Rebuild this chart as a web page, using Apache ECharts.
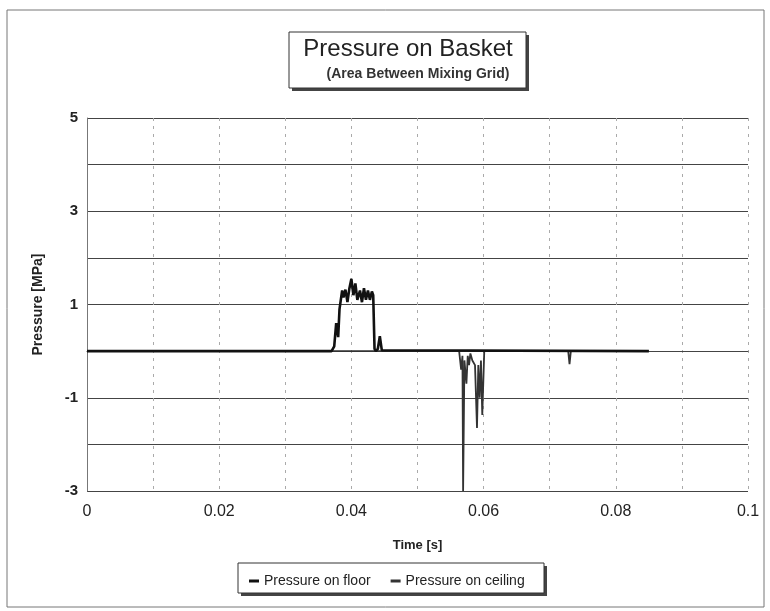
<!DOCTYPE html>
<html>
<head>
<meta charset="utf-8">
<script src="https://cdn.jsdelivr.net/npm/echarts@6/dist/echarts.min.js"></script>
<style>html,body{margin:0;padding:0;background:#fff}#c{width:770px;height:611px}</style>
</head>
<body>
<div id="c"></div>
<script>
// ---- data ----
var floorTime = [0, 0.0370, 0.0374, 0.0377, 0.0380, 0.0382, 0.0386, 0.0388, 0.0391, 0.0394, 0.0397, 0.0400, 0.0403, 0.0406, 0.0409, 0.0413, 0.0416, 0.0419, 0.0422, 0.0425, 0.0428, 0.0431, 0.0433, 0.0435, 0.0437, 0.0440, 0.0443, 0.0446, 0.0449, 0.085];
var floorValue = [0, 0, 0.1, 0.6, 0.3, 0.9, 1.3, 1.15, 1.32, 1.05, 1.35, 1.55, 1.2, 1.45, 1.1, 1.3, 1.05, 1.35, 1.1, 1.3, 1.1, 1.28, 1.2, 0.05, 0, 0.05, 0.32, 0.02, 0, 0];
var ceilTime = [0, 0.0563, 0.0566, 0.0568, 0.0569, 0.0571, 0.0574, 0.0576, 0.0578, 0.0580, 0.0583, 0.0587, 0.0590, 0.0592, 0.0594, 0.0596, 0.0598, 0.0601, 0.0728, 0.0730, 0.0732, 0.085];
var ceilValue = [0, 0, -0.4, -0.1, -3.0, -0.2, -0.7, -0.1, -0.3, -0.05, -0.2, -0.3, -1.65, -0.3, -1.0, -0.2, -1.37, 0, 0, -0.28, 0, 0];
var seriesNames = ['Pressure on floor', 'Pressure on ceiling'];
var xTicks = [0, 0.02, 0.04, 0.06, 0.08, 0.1];
var yTicks = [5, 3, 1, -1, -3];
var titleText = 'Pressure on Basket';
var subtitleText = '(Area Between Mixing Grid)';

function pairs(t, v) { return t.map(function (x, i) { return [x, v[i]]; }); }
function near(a, list) { return list.some(function (b) { return Math.abs(a - b) < 1e-9; }); }

var chart = echarts.init(document.getElementById('c'), null, { renderer: 'canvas' });
var FONT = 'Liberation Sans, Arial, sans-serif';
chart.setOption({
  backgroundColor: '#ffffff',
  animation: false,
  textStyle: { fontFamily: FONT },
  graphic: [
    { type: 'rect', shape: { x: 7, y: 10, width: 757, height: 597 }, style: { fill: 'none', stroke: '#777', lineWidth: 1 }, z: -1 },
    { type: 'rect', shape: { x: 292, y: 35, width: 237, height: 56 }, style: { fill: '#444' }, z: 1 },
    { type: 'rect', shape: { x: 289, y: 32, width: 237, height: 56 }, style: { fill: '#fff', stroke: '#333', lineWidth: 1 }, z: 2 },
    { type: 'text', x: 408, y: 49, style: { text: titleText, font: '24px ' + FONT, fill: '#222', align: 'center', verticalAlign: 'middle' }, z: 3 },
    { type: 'text', x: 418, y: 74, style: { text: subtitleText, font: 'bold 14px ' + FONT, fill: '#333', align: 'center', verticalAlign: 'middle' }, z: 3 },
    { type: 'rect', shape: { x: 241, y: 566, width: 306, height: 30 }, style: { fill: '#444' }, z: 1 },
    { type: 'rect', shape: { x: 238, y: 563, width: 306, height: 30 }, style: { fill: '#fff', stroke: '#333', lineWidth: 1 }, z: 2 }
  ],
  legend: {
    data: [
      { name: seriesNames[0], icon: 'rect', itemStyle: { color: '#111' } },
      { name: seriesNames[1], icon: 'rect', itemStyle: { color: '#333' } }
    ],
    left: 244, top: 569, itemWidth: 10, itemHeight: 3, itemGap: 20,
    textStyle: { fontSize: 14, color: '#222', fontFamily: FONT },
    z: 5
  },
  grid: { left: 87, right: 22, top: 118, bottom: 120, containLabel: false },
  xAxis: {
    type: 'value', min: 0, max: 0.1, interval: 0.01,
    name: 'Time [s]', nameLocation: 'middle', nameGap: 48,
    nameTextStyle: { fontSize: 13, fontWeight: 'bold', color: '#222' },
    axisLine: { show: true, lineStyle: { color: '#444', width: 1 } },
    axisTick: { show: false },
    axisLabel: { fontSize: 16, color: '#222', margin: 13,
      formatter: function (v) { return near(v, xTicks) ? String(Math.round(v * 100) / 100) : ''; } },
    splitLine: { show: true, lineStyle: { color: '#aaa', type: [3, 5], width: 1 } }
  },
  yAxis: {
    type: 'value', min: -3, max: 5, interval: 1,
    name: 'Pressure [MPa]', nameLocation: 'middle', nameGap: 42,
    nameTextStyle: { fontSize: 14, fontWeight: 'bold', color: '#222' },
    axisLine: { show: true, lineStyle: { color: '#777', width: 1 } },
    axisTick: { show: false },
    axisLabel: { fontSize: 15, fontWeight: 'bold', color: '#222', margin: 9,
      formatter: function (v) { return near(v, yTicks) ? String(v) : ''; } },
    splitLine: { show: true, lineStyle: { color: '#444', width: 1.2 } }
  },
  series: [
    { name: seriesNames[0], type: 'line', data: pairs(floorTime, floorValue), showSymbol: false, symbol: 'none',
      lineStyle: { color: '#111', width: 2.6 }, itemStyle: { color: '#111' }, clip: true, z: 4 },
    { name: seriesNames[1], type: 'line', data: pairs(ceilTime, ceilValue), showSymbol: false, symbol: 'none',
      lineStyle: { color: '#333', width: 1.8 }, itemStyle: { color: '#333' }, clip: true, z: 3 }
  ]
});
</script>
</body>
</html>
